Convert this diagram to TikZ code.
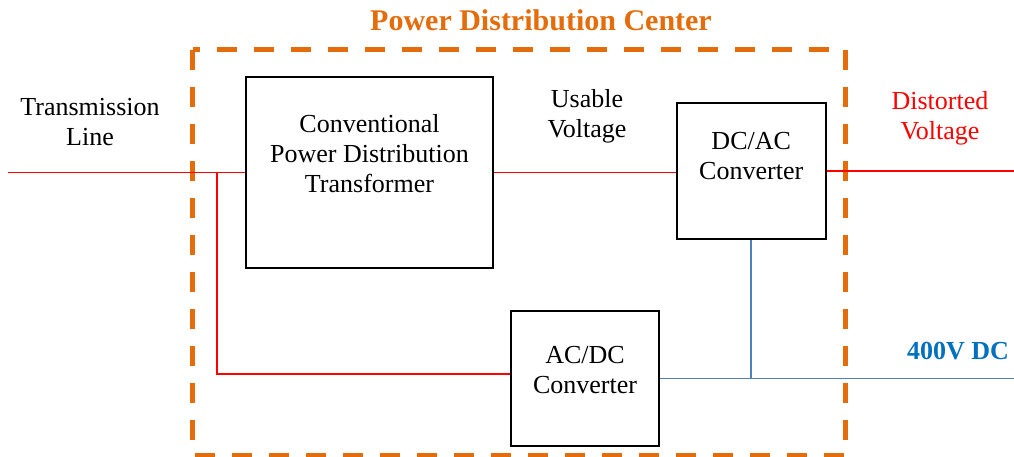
\documentclass[tikz,border=0pt]{standalone}
\usepackage{fontspec}
\setmainfont{Liberation Serif}
\definecolor{pdcorange}{RGB}{228,108,10}
\definecolor{dcblue}{RGB}{0,112,192}
\definecolor{dcline}{RGB}{79,129,189}
\begin{document}
\begin{tikzpicture}[x=1pt, y=-1pt,
  box/.style={draw, line width=2pt, minimum width=#1, inner sep=0pt},
  boxtext/.style={align=center, font=\fontsize{26}{30}\selectfont, inner sep=0pt},
  acline/.style={red, line width=1.6pt},
  dcbus/.style={dcline, line width=1.6pt}]
  \useasboundingbox (0,0) rectangle (1014,457);

  % power distribution center
  \draw[pdcorange, line width=5pt, dash pattern=on 20pt off 17pt]
    (192.7,50) rectangle (845.7,455);
  \node[boxtext, font=\fontsize{30}{34}\selectfont\bfseries, text=pdcorange] (title)
    at (541,20) {Power Distribution Center};

  % blocks
  \node[box=247.6pt, minimum height=191.5pt] (tr) at (369.5,172.5) {};
  \node[boxtext] (trtext) at ([yshift=19pt]tr.center)
    {Conventional\\Power Distribution\\Transformer};
  \node[box=149pt, minimum height=135pt] (dcac) at (751.2,171) {};
  \node[boxtext] (dcactext) at ([yshift=15pt]dcac.center) {DC/AC\\Converter};
  \node[box=148.6pt, minimum height=134.4pt] (acdc) at (585,378.5) {};
  \node[boxtext] (acdctext) at ([yshift=8pt]acdc.center) {AC/DC\\Converter};

  % labels
  \node[boxtext] (tline) at (90,122) {Transmission\\Line};
  \node[boxtext] (usable) at (587,116) {Usable\\Voltage};
  \node[boxtext, text=red] (distorted) at (940,118) {Distorted\\Voltage};
  \node[boxtext, font=\fontsize{26}{30}\selectfont\bfseries, text=dcblue] (vdc)
    at (958,351) {400V DC};

  % connections
  \coordinate (lin) at (8,172.5);
  \coordinate (tap) at (216.7,172.5);
  \coordinate (rout) at (1014,171);
  \coordinate (dcout) at (1014,378.5);
  \draw[acline] (lin) -- (tr.west);
  \draw[acline] (tap) |- ([yshift=4.5pt]acdc.west);
  \draw[acline] (tr.east) -- (tr.east -| dcac.west);
  \draw[acline] (dcac.east) -- (rout);
  \draw[dcbus] (acdc.east) -- (dcout);
  \draw[dcbus] (dcac.south) -- (dcac.south |- acdc.east);
\end{tikzpicture}
\end{document}
